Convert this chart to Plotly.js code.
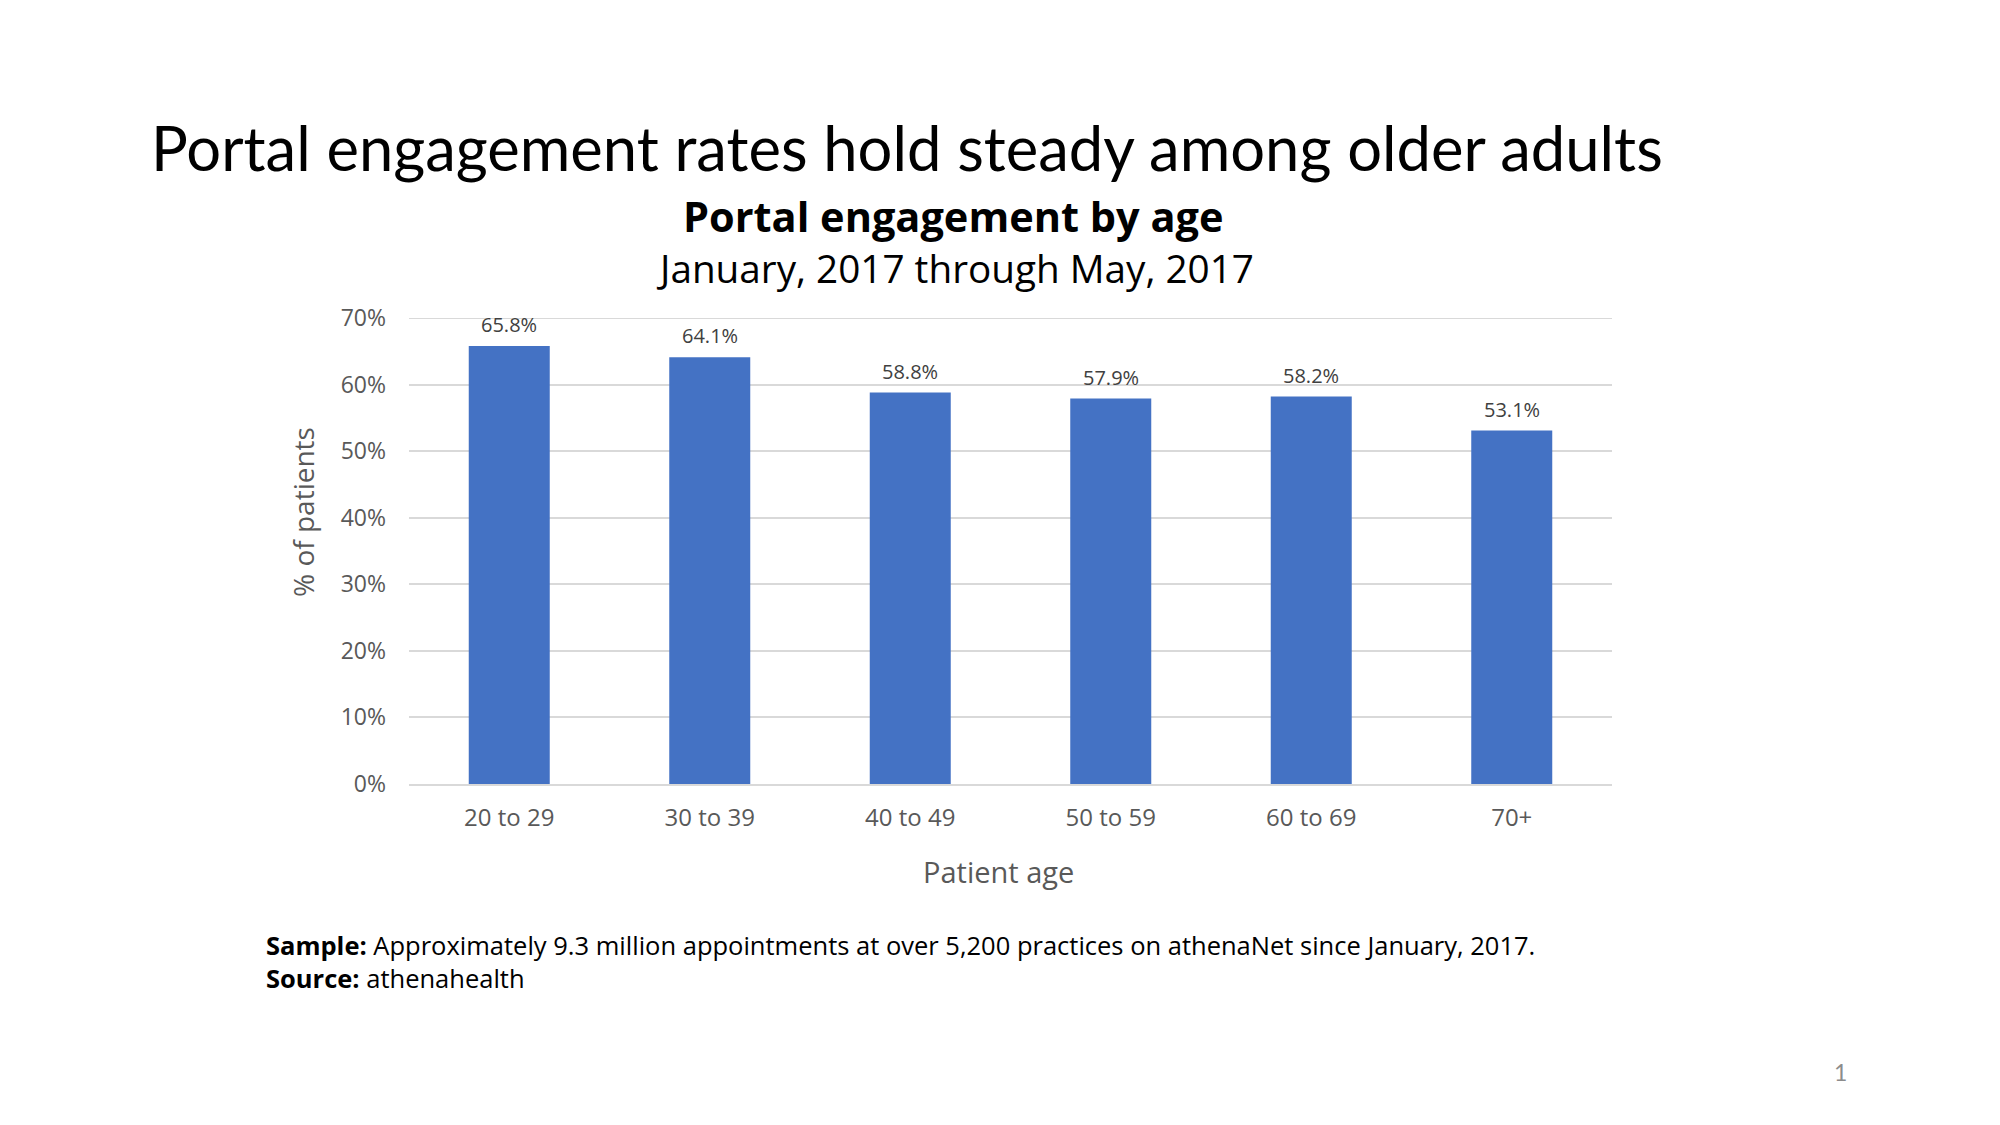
<!DOCTYPE html>
<html>
<head>
<meta charset="utf-8">
<script src="https://cdn.plot.ly/plotly-3.0.1.min.js"></script>
<style>html,body{margin:0;padding:0;background:#fff;}</style>
</head>
<body>
<div id="chart" style="width:2000px;height:1125px;"></div>
<script>
const categories = ["20 to 29", "30 to 39", "40 to 49", "50 to 59", "60 to 69", "70+"];
const engagement = [65.8, 64.1, 58.8, 57.9, 58.2, 53.1];
const yTickVals = [0, 10, 20, 30, 40, 50, 60, 70];
const yTickText = ["0%", "10%", "20%", "30%", "40%", "50%", "60%", "70%"];
const yMax = 70;

const W = 2000, H = 1125;
const L = 409, R = 1612, T = 318, B = 784;
const px = x => (x - L) / (R - L);
const py = y => (B - y) / (B - T);
const FONT = "Open Sans, sans-serif";

const labelAnn = categories.map((c, i) => ({
  x: c, y: engagement[i], xref: 'x', yref: 'y',
  text: engagement[i].toFixed(1) + '%',
  showarrow: false, yanchor: 'bottom', yshift: 6,
  font: {family: FONT, size: 20, color: '#404040'}
}));

const textAnn = [
  {x: px(149), y: py(147), xanchor: 'left', yanchor: 'middle',
   text: 'Portal engagement rates hold steady among older adults',
   font: {family: 'Lato, sans-serif', size: 61.5, color: '#000'}},
  {x: px(953), y: py(216), xanchor: 'center', yanchor: 'middle',
   text: '<b>Portal engagement by age</b>',
   font: {family: FONT, size: 41.5, color: '#000'}},
  {x: px(955), y: py(268), xanchor: 'center', yanchor: 'middle',
   text: 'January, 2017 through May, 2017',
   font: {family: FONT, size: 38.7, color: '#000'}},
  {x: px(998), y: py(871), xanchor: 'center', yanchor: 'middle',
   text: 'Patient age',
   font: {family: FONT, size: 29, color: '#595959'}},
  {x: px(303), y: py(512), xanchor: 'center', yanchor: 'middle', textangle: -90,
   text: '% of patients',
   font: {family: FONT, size: 28, color: '#595959'}},
  {x: px(264), y: py(961), xanchor: 'left', yanchor: 'middle', align: 'left',
   text: '<b>Sample:</b> Approximately 9.3 million appointments at over 5,200 practices on athenaNet since January, 2017.<br><b>Source:</b> athenahealth',
   font: {family: FONT, size: 25.5, color: '#000'}},
  {x: px(1840), y: py(1072), xanchor: 'center', yanchor: 'middle',
   text: '1',
   font: {family: 'Lato, sans-serif', size: 23, color: '#8c8c8c'}}
].map(a => Object.assign({xref: 'paper', yref: 'paper', showarrow: false}, a));

const trace = {
  type: 'bar', x: categories, y: engagement,
  marker: {color: '#4472C4'},
  hoverinfo: 'none'
};

const layout = {
  width: W, height: H, autosize: false,
  paper_bgcolor: '#fff', plot_bgcolor: '#fff',
  margin: {l: L, r: W - R, t: T, b: H - B, pad: 0},
  bargap: 0.596,
  showlegend: false,
  xaxis: {
    type: 'category', showline: true, linecolor: '#d9d9d9', linewidth: 2,
    ticks: '', showgrid: false, zeroline: false,
    tickfont: {family: FONT, size: 24, color: '#595959'},
    ticklabelstandoff: 11
  },
  yaxis: {
    range: [0, yMax], tickvals: yTickVals, ticktext: yTickText,
    showgrid: true, gridcolor: '#d9d9d9', gridwidth: 2,
    zeroline: false, showline: false, ticks: '',
    tickfont: {family: FONT, size: 23, color: '#595959'},
    ticklabelstandoff: 22
  },
  shapes: [{type: 'line', xref: 'paper', yref: 'y', x0: 0, x1: 1, y0: yMax, y1: yMax,
            line: {color: '#d9d9d9', width: 2}, layer: 'below'}],
  annotations: labelAnn.concat(textAnn)
};

Plotly.newPlot('chart', [trace], layout, {staticPlot: true, displayModeBar: false});
</script>
</body>
</html>
